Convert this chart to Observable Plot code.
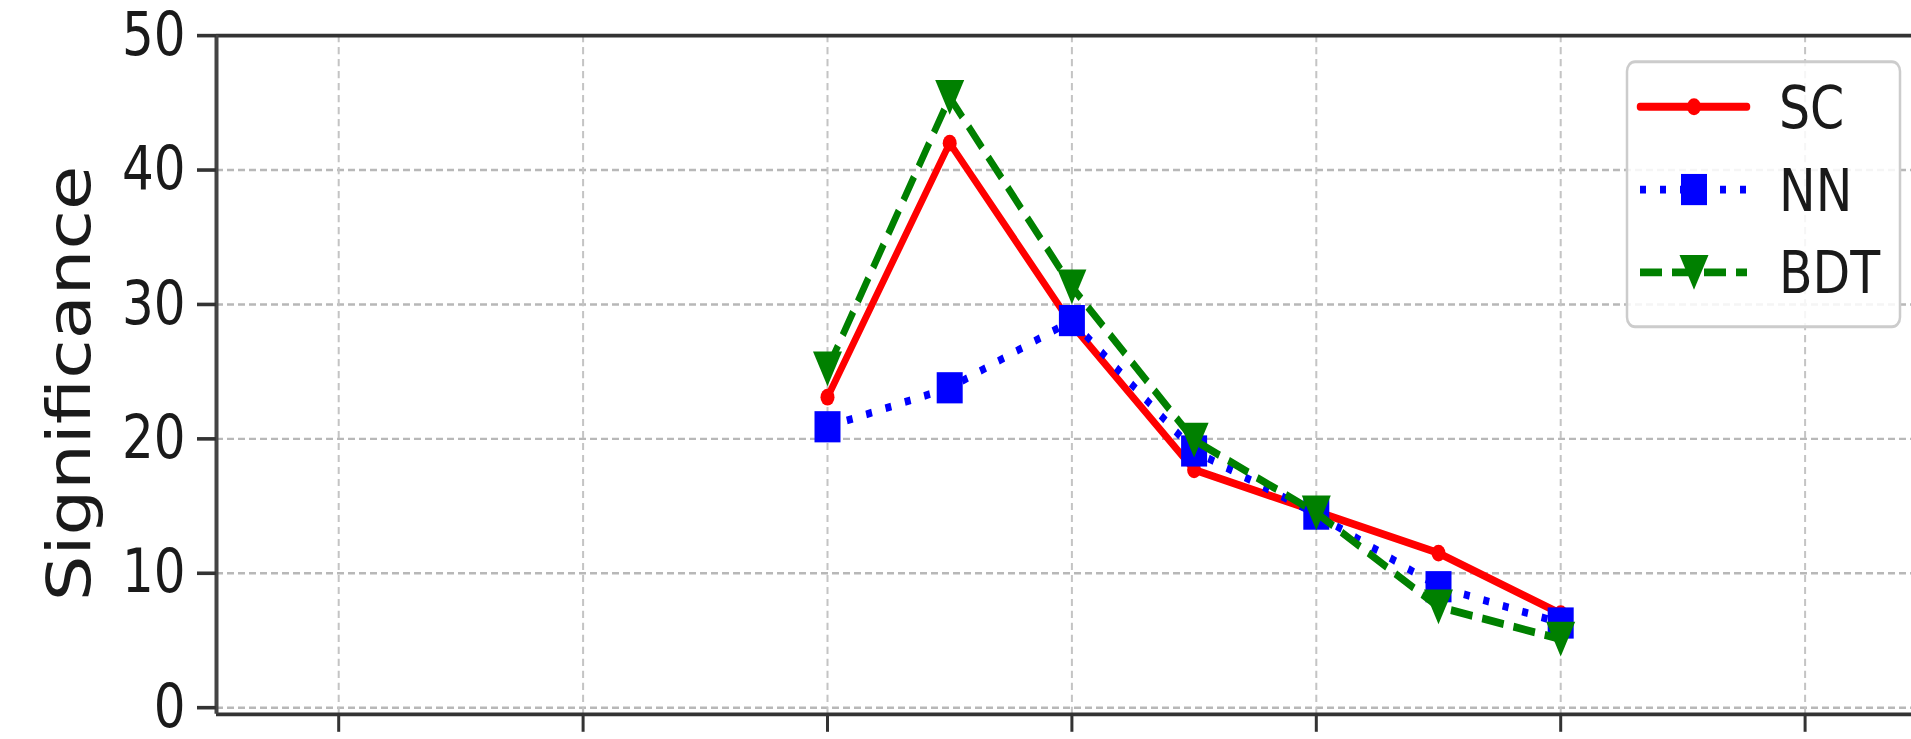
<!DOCTYPE html>
<html>
<head>
<meta charset="utf-8">
<script src="https://cdn.jsdelivr.net/npm/d3@7"></script>
<script src="https://cdn.jsdelivr.net/npm/@observablehq/plot@0.6"></script>
<style>
html, body { margin: 0; padding: 0; background: #fff; overflow: hidden; }
#chart svg { display: block; }
</style>
</head>
<body>
<div id="chart"></div>
<script>
// ---- data ----
const xValues   = [3, 3.5, 4, 4.5, 5, 5.5, 6];
const scValues  = [23.1, 42.0, 28.5, 17.7, 14.6, 11.5, 7.0];
const nnValues  = [20.9, 23.8, 28.8, 19.1, 14.4, 9.0, 6.3];
const bdtValues = [25.2, 45.4, 31.3, 19.9, 14.5, 7.5, 5.1];
const seriesNames = ["SC", "NN", "BDT"];
const xTicks = [1, 2, 3, 4, 5, 6, 7];
const yTicks = [0, 10, 20, 30, 40, 50];
const yLabel = "Significance";

// ---- layout ----
const W = 1911, H = 739, S = 1.2, HI = Math.round(H / S);
const mLeft = 216, xStep = 244.4;

const squareSym = { draw(ctx, size) { const r = Math.sqrt(size / Math.PI);
  ctx.moveTo(-r, -r); ctx.lineTo(r, -r); ctx.lineTo(r, r); ctx.lineTo(-r, r); ctx.closePath(); } };
const triDownSym = { draw(ctx, size) { const r = Math.sqrt(size / Math.PI);
  ctx.moveTo(-r, -r); ctx.lineTo(r, -r); ctx.lineTo(0, r); ctx.closePath(); } };

const LW = 6.5;
const styles = {
  SC:  { color: "#ff0000", dash: null,    symbol: "circle",   r: 7 },
  NN:  { color: "#0000ff", dash: "6,14",  symbol: squareSym,  r: 13 },
  BDT: { color: "#008000", dash: "22,10", symbol: triDownSym, r: 14.5 }
};
const valuesByName = { SC: scValues, NN: nnValues, BDT: bdtValues };

const seriesMarks = seriesNames.flatMap(name => {
  const st = styles[name];
  const rows = xValues.map((x, i) => ({ x, y: valuesByName[name][i] }));
  return [
    Plot.line(rows, { x: "x", y: "y", stroke: st.color, strokeWidth: LW,
      strokeDasharray: st.dash || undefined, strokeLinecap: st.dash ? "butt" : "round", strokeLinejoin: "round" }),
    Plot.dot(rows, { x: "x", y: "y", symbol: st.symbol, r: st.r, fill: st.color, stroke: "none" })
  ];
});

const plot = Plot.plot({
  width: W, height: HI,
  marginLeft: mLeft, marginRight: 0, marginTop: 29.2, marginBottom: 21,
  x: { domain: [0.5, 0.5 + (W - mLeft) / xStep] },
  y: { domain: [-0.5, 50] },
  style: { fontFamily: "DejaVu Sans", color: "#1a1a1a", background: "#fff" },
  marks: [
    Plot.gridY(yTicks, { stroke: "#b8b8b8", strokeOpacity: 1, strokeWidth: 2, strokeDasharray: "7,4" }),
    Plot.gridX(xTicks, { stroke: "#c4c4c4", strokeOpacity: 1, strokeWidth: 2, strokeDasharray: "6,4" }),
    Plot.ruleY([50], { stroke: "#333", strokeWidth: 3 }),
    Plot.ruleY([-0.5], { stroke: "#333", strokeWidth: 3 }),
    Plot.ruleX([0.5], { stroke: "#444", strokeWidth: 4 }),
    Plot.axisY(yTicks, { tickSize: 19, tickPadding: 12, fontSize: 50, label: null, stroke: "#333", strokeWidth: 3, tickFormat: d => String(d) }),
    Plot.axisX(xTicks, { tickSize: 15, label: null, stroke: "#333", strokeWidth: 3, fill: "none", tickFormat: () => "" }),
    Plot.text([yLabel], { text: d => d, frameAnchor: "left", textAnchor: "middle", lineAnchor: "middle",
      dx: -146, dy: 7, rotate: -90, fontSize: 60, fill: "#1a1a1a" }),
    ...seriesMarks
  ]
});

// ---- legend (inside the axes, top right) ----
const svg = d3.select(plot);
const lg = svg.append("g").attr("font-family", "DejaVu Sans").attr("text-anchor", "start");
lg.append("rect").attr("x", 1627).attr("y", 51.4).attr("width", 273).attr("height", 221)
  .attr("rx", 8).attr("fill", "#fff").attr("fill-opacity", 0.85)
  .attr("stroke", "#cccccc").attr("stroke-width", 2.5);
const rowY = [89, 158, 227];
seriesNames.forEach((name, i) => {
  const st = styles[name];
  const y = rowY[i];
  lg.append("line").attr("x1", 1640).attr("x2", 1747).attr("y1", y).attr("y2", y)
    .attr("stroke", st.color).attr("stroke-width", LW)
    .attr("stroke-dasharray", st.dash)
    .attr("stroke-linecap", st.dash ? "butt" : "round");
  const p = d3.path();
  const sym = typeof st.symbol === "string" ? d3.symbolCircle : st.symbol;
  sym.draw(p, st.r * st.r * Math.PI);
  lg.append("path").attr("d", p.toString()).attr("transform", `translate(1694,${y})`).attr("fill", st.color);
  lg.append("text").attr("x", 1779).attr("y", y).attr("dy", "0.36em")
    .attr("text-anchor", "start")
    .attr("font-size", 49).attr("fill", "#1a1a1a").text(name);
});

// the reference image is stretched vertically: reproduce with a non-uniform viewBox
plot.setAttribute("viewBox", `0 0 ${W} ${HI}`);
plot.setAttribute("width", W);
plot.setAttribute("height", H);
plot.setAttribute("preserveAspectRatio", "none");
plot.style.width = W + "px";
plot.style.height = H + "px";
plot.style.maxWidth = "none";

document.getElementById("chart").appendChild(plot);
</script>
</body>
</html>
